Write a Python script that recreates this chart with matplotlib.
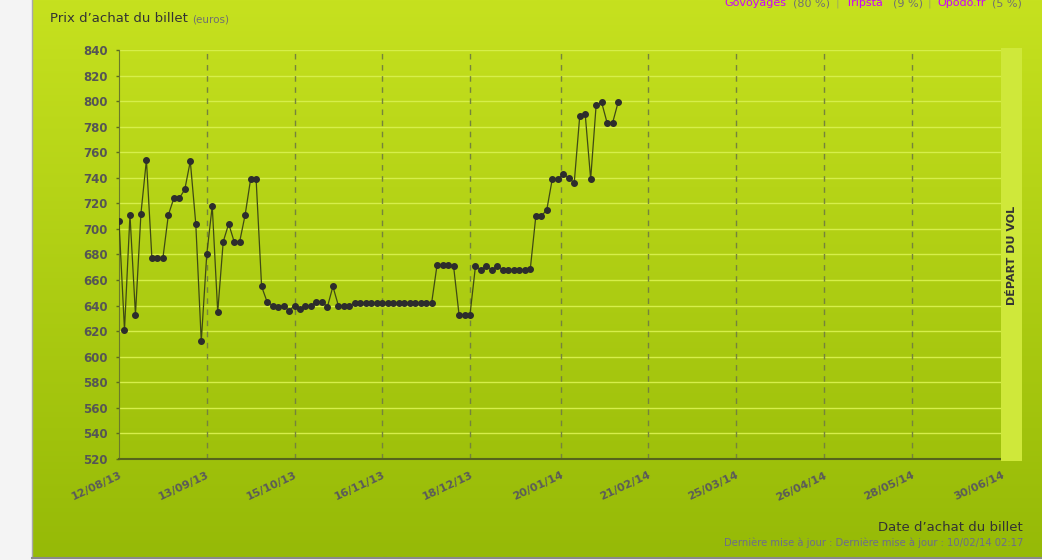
import numpy as np
import pandas as pd
import matplotlib
matplotlib.use("Agg")
import matplotlib.pyplot as plt
from matplotlib.colors import LinearSegmentedColormap

# prix relevés tous les 2 jours depuis le 12/08/13
dates = pd.date_range("2013-08-12", periods=92, freq="2D")
prix = [706, 621, 711, 633, 712, 754, 677, 677, 677, 711,
        724, 724, 731, 753, 704, 612, 680, 718, 635, 690,
        704, 690, 690, 711, 739, 739, 655, 643, 640, 639,
        640, 636, 640, 637, 640, 640, 643, 643, 639, 655,
        640, 640, 640, 642, 642, 642, 642, 642, 642, 642,
        642, 642, 642, 642, 642, 642, 642, 642, 672, 672,
        672, 671, 633, 633, 633, 671, 668, 671, 668, 671,
        668, 668, 668, 668, 668, 669, 710, 710, 715, 739,
        739, 743, 740, 736, 788, 790, 739, 797, 799, 783,
        783, 799]

tick_labels = ["12/08/13", "13/09/13", "15/10/13", "16/11/13", "18/12/13", "20/01/14",
               "21/02/14", "25/03/14", "26/04/14", "28/05/14", "30/06/14"]
tick_dates = pd.to_datetime(tick_labels, format="%d/%m/%y")
y_ticks = list(range(520, 841, 20))

agences = ["Govoyages", "Tripsta", "Opodo.fr"]
parts = ["(80 %)", "(9 %)", "(5 %)"]

W, H = 1042, 560
plt.rcParams["font.family"] = ["DejaVu Sans"]
fig = plt.figure(figsize=(W / 100, H / 100), dpi=100)
fig.patch.set_facecolor("#f4f4f4")

def fx(x):
    return x / W

def fy(y):
    return 1 - y / H

# fond vert en dégradé
bg = fig.add_axes([fx(32), fy(557), fx(W - 32), 557 / H])
cmap = LinearSegmentedColormap.from_list("vert", ["#c6e11f", "#96ba07"])
bg.imshow(np.linspace(0, 1, 200).reshape(-1, 1), aspect="auto", cmap=cmap,
          extent=[0, 1, 0, 1])
bg.axis("off")
fig.add_artist(plt.Line2D([fx(31.5), fx(31.5)], [fy(558), 1], color="#a8a8a8", lw=1))
fig.add_artist(plt.Line2D([fx(31.5), 1], [fy(558), fy(558)], color="#8a8a8a", lw=1.5))

# bande "départ du vol"
fig.add_artist(plt.Rectangle((fx(1001), fy(461)), fx(21), 413 / H, color="#cfe83a", lw=0))
fig.text(fx(1012), fy(255), "DÉPART DU VOL", rotation=90, ha="center", va="center",
         fontsize=8, fontweight="bold", color="#333333")

ax = fig.add_axes([fx(119), fy(459), fx(883), 409 / H])
ax.patch.set_alpha(0)
ax.set_xlim(pd.Timestamp("2013-08-12"), pd.Timestamp("2014-06-30"))
ax.set_ylim(520, 840)

for v in y_ticks[1:]:
    ax.axhline(v, color="#d6ee4a", lw=1, zorder=1)
for d in tick_dates[1:-1]:
    ax.axvline(d, color="#75833c", lw=1, ls=(0, (4, 4)), zorder=1)

ax.plot(dates, prix, color="#3f4a14", lw=0.9, marker="o", markersize=4,
        markerfacecolor="#2d2d2d", markeredgecolor="#2d2d2d", zorder=3)

ax.set_yticks(y_ticks)
ax.set_yticklabels([str(v) for v in y_ticks], fontsize=8.5, color="#555555",
                   fontweight="semibold")
ax.tick_params(axis="y", length=2, width=1, color="#5c6b1f", pad=6)
ax.set_xticks(tick_dates)
ax.set_xticklabels(tick_labels, rotation=25, ha="right", rotation_mode="anchor",
                   fontsize=8, fontweight="bold", color="#5a5a5a")
ax.tick_params(axis="x", length=0, pad=8)
for s in ["top", "right"]:
    ax.spines[s].set_visible(False)
ax.spines["left"].set_color("#6b7a2a")
ax.spines["bottom"].set_color("#56641c")
ax.spines["bottom"].set_linewidth(1.5)

# titres
t = fig.text(fx(50), fy(22), "Prix d’achat du billet ", fontsize=9.5, color="#333333")
ax.annotate("(euros)", xycoords=t, xy=(1, 0), va="bottom", fontsize=7.5, color="#707070")
fig.text(fx(1023), fy(531), "Date d’achat du billet", ha="right", fontsize=9.5, color="#333333")
fig.text(fx(1023), fy(546), "Dernière mise à jour : Dernière mise à jour : 10/02/14 02:17",
         ha="right", fontsize=7.2, color="#6c6c8c")

# légende des agences (coupée en haut comme dans l'original)
x_agence = [724, 846, 937]
x_part = [793, 893, 992]
x_sep = [836, 928]
for a, p, xa, xp in zip(agences, parts, x_agence, x_part):
    fig.text(fx(xa), fy(6), a, fontsize=8, color="#cc00ff", va="baseline")
    fig.text(fx(xp), fy(6), p, fontsize=8, color="#707070", va="baseline")
for xs in x_sep:
    fig.text(fx(xs), fy(6), "|", fontsize=8, color="#9aa860", va="baseline")

fig.savefig("out.png", dpi=100)
